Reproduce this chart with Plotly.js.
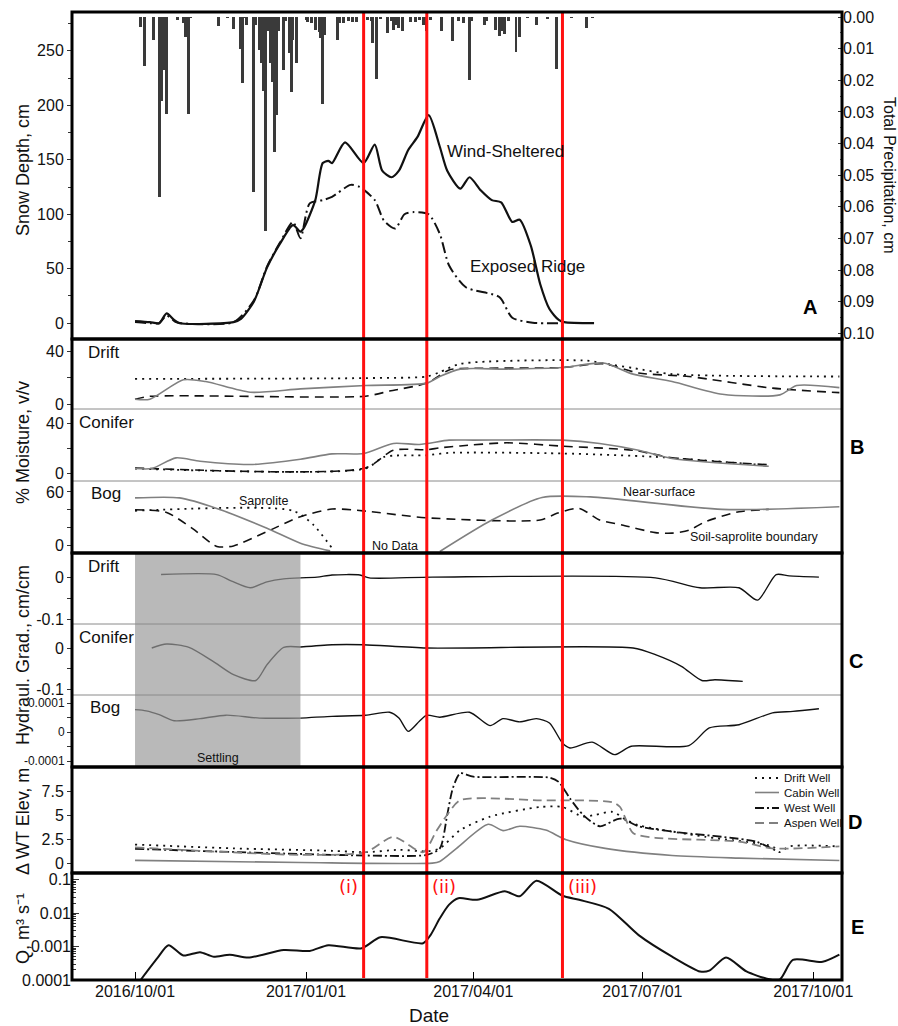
<!DOCTYPE html>
<html><head><meta charset="utf-8">
<script src="https://cdn.plot.ly/plotly-3.0.1.min.js"></script>
<style>html,body{margin:0;padding:0;background:#fff}#chart{width:898px;height:1026px}</style>
</head><body><div id="chart"></div>
<script>
const FONT = 'Liberation Sans, Arial, Helvetica, sans-serif';

// ---------- Panel A: snow depth (cm) and precipitation (cm) ----------
const windDates = ['2016-10-01','2016-10-09','2016-10-14','2016-10-18','2016-10-22','2016-10-25','2016-11-23','2016-11-27','2016-12-04','2016-12-11','2016-12-18','2016-12-25','2016-12-29','2016-12-31','2017-01-06','2017-01-10','2017-01-13','2017-01-15','2017-01-22','2017-02-01','2017-02-07','2017-02-11','2017-02-16','2017-02-20','2017-02-25','2017-03-02','2017-03-08','2017-03-14','2017-03-18','2017-03-25','2017-03-30','2017-04-05','2017-04-11','2017-04-16','2017-04-22','2017-04-26','2017-05-02','2017-05-07','2017-05-12','2017-05-17','2017-05-20','2017-06-05'];
const windDepth = [2,1,0,9,3,0,1,4,20,51,73,90,84,88,113,147,149,147,166,147,164,140,134,140,159,171,191,162,140,123.5,134,122,113,111,93,95,71,36,13,3,1,0];
const ridgeDates = ['2016-10-01','2016-10-09','2016-10-14','2016-10-18','2016-10-23','2016-10-26','2016-11-23','2016-12-04','2016-12-11','2016-12-18','2016-12-25','2016-12-29','2017-01-03','2017-01-10','2017-01-15','2017-01-25','2017-01-30','2017-02-07','2017-02-12','2017-02-18','2017-02-23','2017-02-28','2017-03-08','2017-03-14','2017-03-19','2017-03-28','2017-04-15','2017-04-22','2017-05-03','2017-05-19'];
const ridgeDepth = [1,0,0,7,1,0,1,21,52,74,93,78,110,113,116,127,125,113,94,87,100,102,100,82,53,33,24,5,0.5,0];
const precipDates = ['2016-10-04','2016-10-06','2016-10-11','2016-10-14','2016-10-15','2016-10-16','2016-10-17','2016-10-18','2016-10-24','2016-10-27','2016-10-28','2016-10-30','2016-10-31','2016-11-15','2016-11-20','2016-11-23','2016-11-27','2016-11-28','2016-11-29','2016-11-30','2016-12-04','2016-12-05','2016-12-07','2016-12-08','2016-12-09','2016-12-10','2016-12-12','2016-12-13','2016-12-14','2016-12-15','2016-12-16','2016-12-17','2016-12-20','2016-12-21','2016-12-23','2016-12-24','2016-12-25','2016-12-27','2017-01-01','2017-01-02','2017-01-04','2017-01-06','2017-01-08','2017-01-09','2017-01-10','2017-01-11','2017-01-18','2017-01-19','2017-01-21','2017-01-24','2017-01-26','2017-01-28','2017-02-03','2017-02-05','2017-02-06','2017-02-08','2017-02-10','2017-02-14','2017-02-16','2017-02-17','2017-02-18','2017-02-20','2017-02-22','2017-02-26','2017-03-01','2017-03-03','2017-03-05','2017-03-07','2017-03-09','2017-03-15','2017-03-21','2017-03-24','2017-03-27','2017-03-30','2017-03-31','2017-04-07','2017-04-08','2017-04-13','2017-04-15','2017-04-16','2017-04-18','2017-04-20','2017-04-24','2017-04-26','2017-04-30','2017-05-05','2017-05-11','2017-05-16','2017-05-24','2017-06-01','2017-06-04'];
const precipCm = [0.0032,0.0155,0.0072,0.057,0.0265,0.007,0.0167,0.0305,0.001,0.002,0.0064,0.0305,0.0003,0.0027,0.0003,0.0038,0.0102,0.021,0.0003,0.0025,0.0553,0.0024,0.0104,0.0146,0.0234,0.0675,0.0045,0.0146,0.0204,0.0427,0.031,0.0045,0.0167,0.0013,0.0114,0.0236,0.0072,0.0146,0.001,0.0015,0.002,0.004,0.0046,0.0067,0.0274,0.0057,0.0072,0.002,0.002,0.0014,0.0015,0.0015,0.001,0.0014,0.0082,0.0195,0.0005,0.005,0.0014,0.004,0.0024,0.0035,0.0045,0.0015,0.0015,0.001,0.0025,0.0045,0.001,0.0045,0.0077,0.0014,0.002,0.0199,0.0012,0.0024,0.0014,0.004,0.006,0.0045,0.0055,0.0014,0.0112,0.0063,0.0003,0.0024,0.0005,0.0165,0.0003,0.0035,0.0003];

// ---------- Panel B: % moisture ----------
const bDriftSolidDates = ['2016-10-01','2016-10-09','2016-10-27','2016-11-08','2016-12-02','2016-12-29','2017-02-02','2017-03-07','2017-03-14','2017-03-25','2017-04-19','2017-05-19','2017-06-10','2017-06-26','2017-07-17','2017-08-13','2017-09-13','2017-09-22','2017-10-15'];
const bDriftSolid = [3.8,3.8,18.5,17.2,9.1,11.6,14.2,16,21,26.6,26.6,27.8,31.2,22.8,17.2,7.6,7.1,14.2,12.6];
const bDriftDashDates = ['2016-10-01','2016-10-09','2017-02-02','2017-02-15','2017-03-07','2017-03-19','2017-03-25','2017-05-19','2017-06-10','2017-06-29','2017-07-26','2017-09-09','2017-10-15'];
const bDriftDash = [3.8,6,6.1,10,16,26,27,27.8,30.7,23.6,21,12.2,8.8];
const bDriftDotDates = ['2016-10-01','2017-02-02','2017-03-07','2017-03-14','2017-03-25','2017-06-01','2017-06-11','2017-06-26','2017-07-17','2017-10-15'];
const bDriftDot = [19.2,19.8,21,24.3,30.6,33,30.7,27.4,22.8,21];

const bConSolidDates = ['2016-10-01','2016-10-10','2016-10-23','2016-11-05','2016-12-02','2016-12-29','2017-01-15','2017-02-01','2017-02-17','2017-03-03','2017-03-19','2017-04-01','2017-05-19','2017-06-08','2017-06-29','2017-07-17','2017-09-07'];
const bConSolid = [4,4,12.5,9.8,7.2,11.4,15.7,16,24,23.2,26.6,26.6,26.6,24,18.6,12,5.8];
const bConDashDates = ['2016-10-01','2017-02-02','2017-02-17','2017-03-07','2017-03-14','2017-03-25','2017-04-19','2017-05-19','2017-06-26','2017-07-17','2017-09-07'];
const bConDash = [4.5,4.5,18.6,19,20.5,22,24.5,21.8,18.6,12.6,7];
const bConDotDates = ['2016-10-01','2017-02-02','2017-02-12','2017-03-07','2017-03-19','2017-05-19','2017-07-08','2017-09-05'];
const bConDot = [4,4,13.3,14.6,16.5,16,13.3,6.6];

const bBogSolidDates = ['2016-10-01','2016-10-25','2016-11-14','2016-12-11','2016-12-29','2017-01-14','2017-02-10','2017-03-14','2017-04-11','2017-05-08','2017-06-03','2017-08-13','2017-10-15'];
const bBogSolid = [53.3,53.3,41.5,19.3,2.6,-6,null,-6.7,28.5,53.8,54.4,40.4,43.3];
const bBogDashDates = ['2016-10-01','2016-10-18','2016-11-01','2016-11-14','2016-11-23','2016-12-11','2016-12-29','2017-01-15','2017-02-02','2017-03-07','2017-05-07','2017-05-16','2017-05-28','2017-06-08','2017-06-20','2017-07-08','2017-07-17','2017-07-26','2017-08-04','2017-08-22','2017-09-07'];
const bBogDash = [40,37,18.9,-1,-0.5,15.6,32.2,40.8,38.5,31,28.5,36,41.5,28.5,23,14.4,13.8,17,26.7,37.8,40.4];
const bBogDotDates = ['2016-10-01','2016-12-25','2017-01-05','2017-01-15'];
const bBogDot = [38.9,38.9,23,-3];

// ---------- Panel C: hydraulic gradient (cm/cm) ----------
const settlingEnd = '2016-12-29';
const cDriftDates = ['2016-10-15','2016-11-14','2016-11-22','2016-12-02','2016-12-11','2016-12-20','2016-12-29','2017-01-07','2017-01-15','2017-01-30','2017-02-04','2017-03-10','2017-07-08','2017-08-01','2017-08-22','2017-09-01','2017-09-11','2017-09-18','2017-10-04'];
const cDrift = [0.006,0.006,-0.0094,-0.025,-0.011,-0.004,-0.0017,0,0.005,0.005,-0.0017,0,-0.0017,-0.025,-0.025,-0.054,0.006,0.003,0];
const cConDates = ['2016-10-10','2016-10-18','2016-10-30','2016-11-12','2016-11-23','2016-12-05','2016-12-11','2016-12-20','2016-12-29','2017-01-15','2017-02-01','2017-03-07','2017-06-26','2017-07-08','2017-07-22','2017-08-02','2017-08-09','2017-08-24'];
const cCon = [0,0.0096,0.0016,-0.032,-0.064,-0.078,-0.04,0.0016,0.0024,0.008,0.008,0,0,-0.016,-0.044,-0.078,-0.076,-0.08];
const cBogDates = ['2016-10-01','2016-10-07','2016-10-14','2016-10-22','2016-11-05','2016-11-19','2016-12-07','2016-12-29','2017-01-15','2017-02-02','2017-02-15','2017-02-20','2017-02-25','2017-03-03','2017-03-07','2017-03-14','2017-03-30','2017-04-10','2017-04-17','2017-04-26','2017-05-05','2017-05-12','2017-05-19','2017-05-23','2017-06-04','2017-06-16','2017-06-25','2017-07-26','2017-08-06','2017-08-22','2017-09-09','2017-09-20','2017-10-04'];
const cBog = [7.8e-5,7.4e-5,6.1e-5,4.0e-5,4.7e-5,5.9e-5,4.9e-5,4.9e-5,5.5e-5,5.9e-5,6.9e-5,4.9e-5,0.3e-5,3.8e-5,5.9e-5,5.2e-5,6.9e-5,2.3e-5,4.7e-5,3.6e-5,4.7e-5,3.2e-5,-3.7e-5,-5.4e-5,-3.4e-5,-7.7e-5,-4.8e-5,-4.6e-5,1.5e-5,2.6e-5,6.7e-5,7.2e-5,8.1e-5];

// ---------- Panel D: change in water-table elevation (m) ----------
const wellNames = ['Drift Well','Cabin Well','West Well','Aspen Well'];
const driftWellDates = ['2016-10-01','2016-11-23','2017-01-15','2017-02-02','2017-02-20','2017-03-07','2017-03-14','2017-03-25','2017-04-10','2017-05-07','2017-05-19','2017-05-30','2017-06-06','2017-06-15','2017-06-22','2017-06-29','2017-08-04','2017-09-09','2017-09-13','2017-09-18','2017-10-15'];
const driftWell = [2.0,1.6,1.35,1.2,1.45,1.3,1.6,3.5,4.9,5.9,5.9,4.9,5.1,5.4,4.6,4.0,2.8,1.8,1.2,1.8,1.8];
const cabinWellDates = ['2016-10-01','2016-12-29','2017-03-10','2017-03-14','2017-03-23','2017-04-09','2017-04-17','2017-04-26','2017-05-10','2017-05-21','2017-06-11','2017-07-17','2017-08-22','2017-10-15'];
const cabinWell = [0.35,0.13,0.07,0.24,1.6,4.1,3.45,3.9,3.5,2.5,1.6,0.86,0.59,0.34];
const westWellDates = ['2016-10-01','2017-02-02','2017-03-07','2017-03-14','2017-03-18','2017-03-21','2017-03-25','2017-04-01','2017-05-12','2017-05-17','2017-05-23','2017-05-30','2017-06-08','2017-06-19','2017-06-29','2017-07-17','2017-08-31','2017-09-11'];
const westWell = [1.55,0.86,0.93,1.6,5.1,7.85,9.4,9.05,8.95,8.5,6.8,5.1,3.9,4.7,3.9,3.35,2.3,1.35];
const aspenWellDates = ['2016-10-01','2016-12-29','2017-02-02','2017-02-17','2017-03-05','2017-03-12','2017-03-18','2017-03-25','2017-05-07','2017-06-15','2017-06-19','2017-06-26','2017-07-08','2017-08-22','2017-09-09','2017-10-15'];
const aspenWell = [1.7,0.93,1.2,2.8,1.2,3.35,5.1,6.6,6.6,6.4,5.9,3.2,2.7,2.3,1.6,1.8];

// ---------- Panel E: discharge (m3/s) ----------
const qDates = ['2016-10-04','2016-10-13','2016-10-19','2016-10-27','2016-11-05','2016-11-12','2016-11-21','2016-12-01','2016-12-20','2017-01-03','2017-01-13','2017-01-31','2017-02-10','2017-03-05','2017-03-09','2017-03-14','2017-03-19','2017-03-24','2017-04-03','2017-04-18','2017-04-26','2017-05-05','2017-05-19','2017-05-28','2017-06-13','2017-06-29','2017-07-17','2017-08-01','2017-08-06','2017-08-15','2017-08-26','2017-09-06','2017-09-13','2017-09-20','2017-10-06','2017-10-15'];
const qFlow = [1e-4,4.5e-4,1.1e-3,5.4e-4,6.8e-4,5e-4,5.7e-4,4.7e-4,7.9e-4,7.4e-4,1.1e-3,8.9e-4,1.9e-3,1.26e-3,2.2e-3,7e-3,0.018,0.028,0.025,0.045,0.032,0.093,0.033,0.025,0.0135,2.2e-3,5e-4,1.8e-4,1.9e-4,4.7e-4,1.8e-4,1.1e-4,1.05e-4,4e-4,3.5e-4,5.7e-4];

// ---------- Event markers and axis ticks ----------
const eventDates = ['2017-02-01','2017-03-07','2017-05-19'];
const eventLabels = ['(i)','(ii)','(iii)'];
const xTickDates = ['2016-10-01','2017-01-01','2017-04-01','2017-07-01','2017-10-01'];
const settlingStart = '2016-10-01';
const qMinorTicks = [2e-4,3e-4,4e-4,5e-4,6e-4,7e-4,8e-4,9e-4,2e-3,3e-3,4e-3,5e-3,6e-3,7e-3,8e-3,9e-3,0.02,0.03,0.04,0.05,0.06,0.07,0.08,0.09];

// ---------- pixel helpers for layout placement ----------
const L = 72, R = 842, T = 12, B = 980;
const fx = p => (p - L) / (R - L);
const fy = p => (B - p) / (B - T);
const dom = (top, bot) => [fy(bot), fy(top)];

const GRAY = '#808080', BLK = '#111';
const DOT = '2px,5px', DASH = '9px,6px';
const wellStyles = [[BLK, 1.8, DOT], [GRAY, 1.6, 'solid'], [BLK, 1.8, '9px,3px,2px,3px'], [GRAY, 1.8, '9px,5px']];

function split(dates, vals, cut) {
  const a = {x: [], y: []}, b = {x: [], y: []};
  dates.forEach((d, i) => {
    if (d <= cut) { a.x.push(d); a.y.push(vals[i]); }
    if (d >= cut) { b.x.push(d); b.y.push(vals[i]); }
  });
  return [a, b];
}
function line(x, y, ax, color, width, dash, extra) {
  return Object.assign({type: 'scatter', mode: 'lines', x: x, y: y, yaxis: ax,
    line: {color: color, width: width, dash: dash || 'solid', shape: 'spline', smoothing: 0.7},
    showlegend: false, hoverinfo: 'skip', connectgaps: false}, extra || {});
}

const traces = [];
// A
traces.push({type: 'bar', x: precipDates, y: precipCm, yaxis: 'y2', width: 1.6 * 86400000,
  marker: {color: '#3a3a3a', line: {width: 0}}, showlegend: false, hoverinfo: 'skip'});
traces.push(line(ridgeDates, ridgeDepth, 'y', BLK, 2, '11px,4px,2px,4px'));
traces.push(line(windDates, windDepth, 'y', BLK, 2.2));
// B
traces.push(line(bDriftDotDates, bDriftDot, 'y3', BLK, 1.8, DOT));
traces.push(line(bDriftDashDates, bDriftDash, 'y3', BLK, 1.6, DASH));
traces.push(line(bDriftSolidDates, bDriftSolid, 'y3', GRAY, 1.6));
traces.push(line(bConDotDates, bConDot, 'y4', BLK, 1.8, DOT));
traces.push(line(bConDashDates, bConDash, 'y4', BLK, 1.6, DASH));
traces.push(line(bConSolidDates, bConSolid, 'y4', GRAY, 1.6));
traces.push(line(bBogDotDates, bBogDot, 'y5', BLK, 1.8, DOT));
traces.push(line(bBogDashDates, bBogDash, 'y5', BLK, 1.6, DASH));
traces.push(line(bBogSolidDates, bBogSolid, 'y5', GRAY, 1.6));
// C
[[cDriftDates, cDrift, 'y6'], [cConDates, cCon, 'y7'], [cBogDates, cBog, 'y8']].forEach(s => {
  const [g, k] = split(s[0], s[1], settlingEnd);
  traces.push(line(g.x, g.y, s[2], '#6e6e6e', 1.4));
  traces.push(line(k.x, k.y, s[2], BLK, 1.4));
});
// D
[[driftWellDates, driftWell], [cabinWellDates, cabinWell], [westWellDates, westWell], [aspenWellDates, aspenWell]]
  .forEach((s, i) => traces.push(line(s[0], s[1], 'y9', wellStyles[i][0], wellStyles[i][1], wellStyles[i][2], {name: wellNames[i]})));
// E
traces.push(line(qDates, qFlow, 'y10', BLK, 2));

const tf = {family: FONT, size: 16, color: '#111'};
function yax(domain, range, extra) {
  return Object.assign({domain: domain, range: range, anchor: 'x', showgrid: false, zeroline: false,
    showline: false, ticks: 'outside', ticklen: 4, tickwidth: 1, tickcolor: '#333', tickfont: tf,
    fixedrange: true}, extra);
}
const mnr = vals => ({tickmode: 'array', tickvals: vals, ticks: 'outside', ticklen: 4, tickcolor: '#333'});

const shapes = [];
// settling band
shapes.push({type: 'rect', xref: 'x', yref: 'paper', x0: settlingStart, x1: settlingEnd,
  y0: fy(767), y1: fy(553.5), fillcolor: '#b9b9b9', line: {width: 0}, layer: 'below'});
// thin dividers
[409, 481, 624, 695].forEach(p => shapes.push({type: 'line', xref: 'paper', yref: 'paper',
  x0: 0, x1: 1, y0: fy(p), y1: fy(p), line: {color: '#8a8a8a', width: 1}}));
// red event lines
eventDates.forEach(d => shapes.push({type: 'line', xref: 'x', yref: 'paper', x0: d, x1: d,
  y0: fy(978), y1: 1, line: {color: '#ff1010', width: 3}}));
// panel frames
[[12, 339], [339, 553], [553, 767], [767, 873], [873, 980]].forEach(p => shapes.push({
  type: 'rect', xref: 'paper', yref: 'paper', x0: 0, x1: 1, y0: fy(p[1]), y1: fy(p[0]),
  line: {color: '#000', width: 3}, fillcolor: 'rgba(0,0,0,0)'}));

const ann = [];
function txt(text, px, pyy, size, opts) {
  ann.push(Object.assign({text: text, xref: 'paper', yref: 'paper', x: fx(px), y: fy(pyy),
    showarrow: false, font: {family: FONT, size: size, color: '#111'}, xanchor: 'center', yanchor: 'middle'}, opts || {}));
}
// legend for panel D (swatch + label)
const legRows = [778, 792.5, 808, 823];
wellNames.forEach((n, i) => {
  shapes.push({type: 'line', xref: 'paper', yref: 'paper', x0: fx(755), x1: fx(779), y0: fy(legRows[i]), y1: fy(legRows[i]),
    line: {color: wellStyles[i][0], width: wellStyles[i][1], dash: wellStyles[i][2]}});
  txt(n, 782, legRows[i], 11.5, {xanchor: 'left'});
});
// axis titles
txt('Snow Depth, cm', 23, 170, 18, {textangle: -90});
txt('Total Precipitation, cm', 890, 175, 16, {textangle: 90});
txt('% Moisture, v/v', 23, 443, 18, {textangle: -90});
txt('Hydraul. Grad., cm/cm', 23, 655, 18, {textangle: -90});
txt('\u0394 WT Elev, m', 23, 822, 18, {textangle: -90});
txt('Q, m\u00b3 s\u207b\u00b9', 23, 929, 18, {textangle: -90});
txt('Date', 429, 1015, 19);
// panel A labels
txt('Wind-Sheltered', 505, 152, 17);
txt('Exposed Ridge', 527, 266, 17);
// site labels
txt('Drift', 86, 352, 17, {xanchor: 'left'});
txt('Conifer', 77, 422, 17, {xanchor: 'left'});
txt('Bog', 89, 493, 17, {xanchor: 'left'});
txt('Drift', 86, 566, 17, {xanchor: 'left'});
txt('Conifer', 77, 637, 17, {xanchor: 'left'});
txt('Bog', 88, 707, 17, {xanchor: 'left'});
// B annotations
txt('Saprolite', 263, 501, 12.5);
txt('No Data', 395, 546, 12.5);
txt('Near-surface', 659, 492, 12.5);
txt('Soil-saprolite boundary', 754, 537, 12.5);
txt('Settling', 218, 758, 12.5);
// panel letters
[['A', 810, 307], ['B', 857, 447], ['C', 856, 661], ['D', 855, 822], ['E', 857, 927]].forEach(l =>
  txt(l[0], l[1], l[2], 20, {font: {family: FONT, size: 20, color: '#000', weight: 'bold'}}));
// event labels (red)
const redFont = {family: 'DejaVu Sans, sans-serif', size: 18, color: '#ff1010'};
txt(eventLabels[0], 360, 886, 18, {xanchor: 'right', font: redFont});
txt(eventLabels[1], 430, 886, 18, {xanchor: 'left', font: redFont});
txt(eventLabels[2], 566, 886, 18, {xanchor: 'left', font: redFont});

const layout = {
  width: 898, height: 1026,
  margin: {l: L, r: 898 - R, t: T, b: 1026 - B, pad: 0},
  paper_bgcolor: '#fff', plot_bgcolor: 'rgba(0,0,0,0)',
  font: {family: FONT, size: 16, color: '#111'},
  showlegend: false,
  bargap: 0,
  xaxis: {type: 'date', domain: [0, 1], anchor: 'y10', range: ['2016-08-28 02:00', '2017-10-16 10:00'],
    tickvals: xTickDates, tickformat: '%Y/%m/%d', ticks: 'inside', ticklen: 8, tickcolor: '#000',
    tickfont: tf, showgrid: false, zeroline: false, showline: false, fixedrange: true},
  yaxis: yax(dom(12, 339), [-14.5, 285.7], {tickvals: [0, 50, 100, 150, 200, 250],
    minor: {dtick: 25, tick0: 0, ticks: 'outside', ticklen: 3, tickcolor: '#333'}}),
  yaxis2: {overlaying: 'y', side: 'right', anchor: 'x', range: [0.1018, -0.0016], showgrid: false, zeroline: false,
    showline: false, ticks: 'inside', ticklen: 4, tickcolor: '#333', tickfont: tf, tickformat: '.2f', dtick: 0.01, tick0: 0,
    minor: {dtick: 0.005, ticks: 'inside', ticklen: 2, tickcolor: '#555'}, fixedrange: true},
  yaxis3: yax(dom(339, 409), [-3.6, 49.4], {tickvals: [0, 40], minor: mnr([20])}),
  yaxis4: yax(dom(409, 481), [-5.9, 51.4], {tickvals: [0, 40], minor: mnr([20])}),
  yaxis5: yax(dom(481, 553), [-8.4, 72.2], {tickvals: [0, 60], minor: mnr([20, 40])}),
  yaxis6: yax(dom(553, 624), [-0.110, 0.0566], {tickvals: [-0.1, 0], ticktext: ['-0.1', '0'], minor: mnr([-0.05])}),
  yaxis7: yax(dom(624, 695), [-0.1127, 0.0576], {tickvals: [-0.1, 0], ticktext: ['-0.1', '0'], minor: mnr([-0.05])}),
  yaxis8: yax(dom(695, 767), [-0.0001197, 0.0001286], {tickvals: [-0.0001, 0, 0.0001],
    ticktext: ['-0.0001', '0', '0.0001'], tickfont: {family: FONT, size: 12, color: '#111'}, minor: mnr([-0.00005, 0.00005])}),
  yaxis9: yax(dom(767, 873), [-0.96, 10.06], {tickvals: [0, 2.5, 5, 7.5], ticktext: ['0', '2.5', '5', '7.5']}),
  yaxis10: yax(dom(873, 980), [-4.0, -0.8], {type: 'log', tickvals: [0.0001, 0.001, 0.01, 0.1],
    ticktext: ['0.0001', '0.001', '0.01', '0.1'], ticks: 'inside', ticklen: 7,
    minor: {tickmode: 'array', tickvals: qMinorTicks, ticks: 'inside', ticklen: 4, tickcolor: '#333'}}),
  shapes: shapes,
  annotations: ann
};

Plotly.newPlot('chart', traces, layout, {displayModeBar: false, staticPlot: true});
</script></body></html>
